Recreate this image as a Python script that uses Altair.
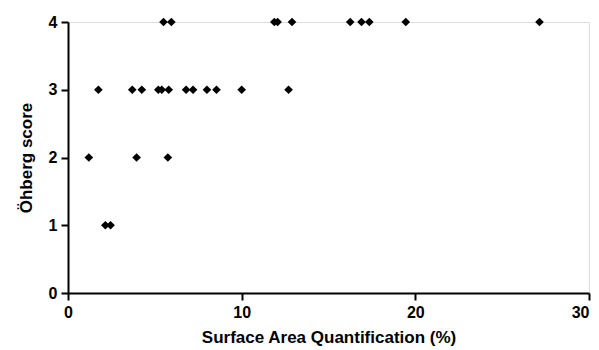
import altair as alt
import pandas as pd

# Surface area quantification (%) and Öhberg score per subject
surface_area = [
    5.5, 5.95, 11.88, 12.07, 12.9, 16.25, 16.9, 17.35, 19.45, 27.15,
    1.75, 3.7, 4.25, 5.2, 5.4, 5.8, 6.8, 7.2, 8.0, 8.55, 10.0, 12.7,
    1.2, 3.95, 5.75,
    2.15, 2.45,
]
ohberg = [
    4, 4, 4, 4, 4, 4, 4, 4, 4, 4,
    3, 3, 3, 3, 3, 3, 3, 3, 3, 3, 3, 3,
    2, 2, 2,
    1, 1,
]

df = pd.DataFrame({"area": surface_area, "score": ohberg})

font = "Liberation Sans"

chart = alt.Chart(df).mark_point(
    shape="diamond", filled=True, color="black", size=75, opacity=1
).encode(
    x=alt.X(
        "area:Q",
        scale=alt.Scale(domain=[0, 30], nice=False, zero=True),
        axis=alt.Axis(
            title="Surface Area Quantification (%)",
            values=[0, 10, 20, 30],
            format="d",
            grid=False,
            domainColor="black",
            domainWidth=2,
            tickColor="black",
            tickWidth=2,
            tickSize=7,
            labelFont=font,
            labelFontSize=16,
            labelFontWeight="bold",
            labelColor="black",
            labelPadding=4,
            labelFlush=False,
            labelOverlap=False,
            labelAlign=alt.ExprRef("datum.value === 30 ? 'right' : 'center'"),
            titleFont=font,
            titleFontSize=17,
            titleFontWeight="bold",
            titleColor="black",
            titlePadding=9,
        ),
    ),
    y=alt.Y(
        "score:Q",
        scale=alt.Scale(domain=[0, 4], nice=False, zero=True),
        axis=alt.Axis(
            title="Öhberg score",
            values=[0, 1, 2, 3, 4],
            format="d",
            grid=False,
            domainColor="black",
            domainWidth=2,
            tickColor="black",
            tickWidth=2,
            tickSize=7,
            labelFont=font,
            labelFontSize=16,
            labelFontWeight="bold",
            labelColor="black",
            labelPadding=4,
            labelFlush=False,
            titleFont=font,
            titleFontSize=17,
            titleFontWeight="bold",
            titleColor="black",
            titlePadding=13,
        ),
    ),
).properties(
    width=521,
    height=271,
    autosize=alt.AutoSizeParams(type="none"),
    padding={"left": 60, "top": 14, "right": 2, "bottom": 54},
).configure_view(
    stroke=None
).configure(
    background="white"
)

chart.save("out.html", embed_options={"renderer": "svg", "actions": False})
